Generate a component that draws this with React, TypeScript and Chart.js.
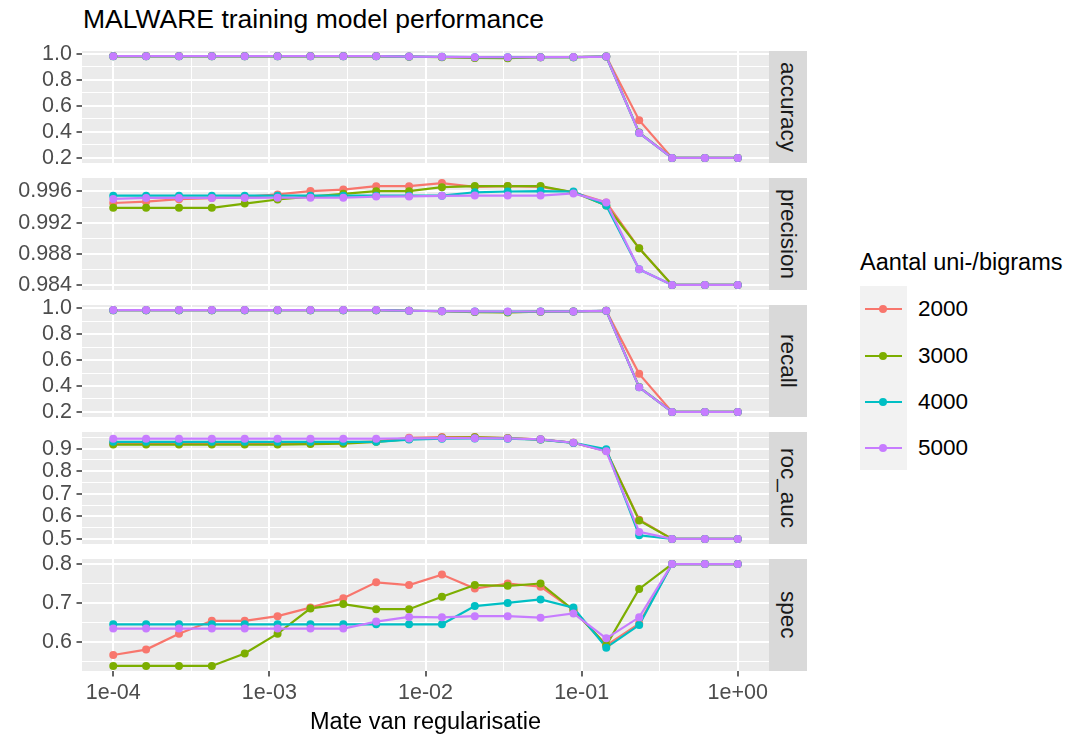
import React, { useEffect, useRef } from "react";
import { Chart, registerables } from "chart.js";

Chart.register(...registerables);

// ---------- data ----------
const regularisation = [
  1e-4, 1.624e-4, 2.637e-4, 4.281e-4, 6.952e-4, 1.129e-3, 1.833e-3, 2.976e-3, 4.833e-3, 7.848e-3,
  1.274e-2, 2.069e-2, 3.36e-2, 5.456e-2, 8.859e-2, 0.1438, 0.2336, 0.3793, 0.6158, 1.0,
];

const groupLabels = ["2000", "3000", "4000", "5000"];
const groupColors = ["#F8766D", "#7CAE00", "#00BFC4", "#C77CFF"];
const metricNames = ["accuracy", "precision", "recall", "roc_auc", "spec"];

const accuracy2000 = [0.984, 0.984, 0.984, 0.984, 0.984, 0.984, 0.984, 0.984, 0.984, 0.98, 0.977, 0.972, 0.97, 0.975, 0.976, 0.98, 0.49, 0.2, 0.2, 0.2];
const accuracy3000 = [0.982, 0.982, 0.982, 0.982, 0.982, 0.982, 0.982, 0.982, 0.982, 0.979, 0.976, 0.97, 0.968, 0.975, 0.976, 0.98, 0.395, 0.2, 0.2, 0.2];
const accuracy4000 = [0.983, 0.983, 0.983, 0.983, 0.983, 0.983, 0.983, 0.983, 0.983, 0.98, 0.978, 0.976, 0.975, 0.976, 0.976, 0.98, 0.392, 0.2, 0.2, 0.2];
const accuracy5000 = [0.983, 0.983, 0.983, 0.983, 0.983, 0.983, 0.983, 0.983, 0.983, 0.98, 0.978, 0.976, 0.975, 0.976, 0.977, 0.98, 0.392, 0.2, 0.2, 0.2];

const precision2000 = [0.99452, 0.99469, 0.99502, 0.99515, 0.99532, 0.99562, 0.99605, 0.99625, 0.99668, 0.99668, 0.99708, 0.9966, 0.9967, 0.9966, 0.9959, 0.9946, 0.9887, 0.984, 0.984, 0.984];
const precision3000 = [0.9939, 0.9939, 0.9939, 0.9939, 0.99445, 0.99497, 0.99535, 0.9957, 0.99604, 0.99604, 0.99655, 0.9967, 0.9967, 0.9967, 0.9959, 0.9942, 0.9887, 0.984, 0.984, 0.984];
const precision4000 = [0.99546, 0.99546, 0.99546, 0.99546, 0.99546, 0.99546, 0.99546, 0.99546, 0.99546, 0.99546, 0.99546, 0.9959, 0.996, 0.99605, 0.996, 0.9942, 0.986, 0.984, 0.984, 0.984];
const precision5000 = [0.99504, 0.99517, 0.99517, 0.99517, 0.99517, 0.9952, 0.9952, 0.9952, 0.99535, 0.99537, 0.99545, 0.99548, 0.99548, 0.99548, 0.99575, 0.9946, 0.986, 0.984, 0.984, 0.984];

const recall2000 = [0.986, 0.986, 0.986, 0.986, 0.986, 0.986, 0.986, 0.986, 0.986, 0.982, 0.978, 0.974, 0.972, 0.975, 0.976, 0.981, 0.494, 0.2, 0.2, 0.2];
const recall3000 = [0.986, 0.986, 0.986, 0.986, 0.986, 0.986, 0.986, 0.986, 0.986, 0.982, 0.978, 0.972, 0.969, 0.975, 0.976, 0.981, 0.392, 0.2, 0.2, 0.2];
const recall4000 = [0.986, 0.986, 0.986, 0.986, 0.986, 0.986, 0.986, 0.986, 0.986, 0.982, 0.979, 0.976, 0.975, 0.976, 0.977, 0.981, 0.39, 0.2, 0.2, 0.2];
const recall5000 = [0.987, 0.987, 0.987, 0.987, 0.987, 0.987, 0.987, 0.987, 0.987, 0.982, 0.979, 0.977, 0.976, 0.976, 0.977, 0.981, 0.39, 0.2, 0.2, 0.2];

const rocAuc2000 = [0.922, 0.922, 0.922, 0.922, 0.922, 0.922, 0.924, 0.926, 0.932, 0.948, 0.951, 0.951, 0.947, 0.941, 0.926, 0.89, 0.585, 0.5, 0.5, 0.5];
const rocAuc3000 = [0.918, 0.918, 0.918, 0.918, 0.918, 0.918, 0.92, 0.922, 0.93, 0.942, 0.948, 0.95, 0.946, 0.94, 0.926, 0.89, 0.582, 0.5, 0.5, 0.5];
const rocAuc4000 = [0.93, 0.93, 0.93, 0.93, 0.93, 0.93, 0.93, 0.93, 0.93, 0.94, 0.944, 0.945, 0.944, 0.94, 0.925, 0.897, 0.516, 0.5, 0.5, 0.5];
const rocAuc5000 = [0.944, 0.944, 0.944, 0.944, 0.944, 0.944, 0.944, 0.944, 0.944, 0.945, 0.946, 0.946, 0.945, 0.941, 0.926, 0.888, 0.531, 0.5, 0.5, 0.5];

const spec2000 = [0.566, 0.58, 0.621, 0.654, 0.654, 0.666, 0.688, 0.712, 0.753, 0.746, 0.773, 0.737, 0.75, 0.742, 0.682, 0.591, 0.647, 0.8, 0.8, 0.8];
const spec3000 = [0.538, 0.538, 0.538, 0.538, 0.57, 0.621, 0.686, 0.697, 0.684, 0.684, 0.716, 0.746, 0.744, 0.75, 0.682, 0.591, 0.736, 0.8, 0.8, 0.8];
const spec4000 = [0.645, 0.645, 0.645, 0.645, 0.645, 0.645, 0.645, 0.645, 0.645, 0.645, 0.645, 0.692, 0.7, 0.709, 0.688, 0.585, 0.643, 0.8, 0.8, 0.8];
const spec5000 = [0.634, 0.634, 0.634, 0.634, 0.634, 0.634, 0.634, 0.634, 0.652, 0.664, 0.663, 0.666, 0.666, 0.662, 0.673, 0.609, 0.663, 0.8, 0.8, 0.8];

const xTickValues = [1e-4, 1e-3, 1e-2, 1e-1, 1];
const xTickLabels = ["1e-04", "1e-03", "1e-02", "1e-01", "1e+00"];

const yTicksUnit = [0.2, 0.4, 0.6, 0.8, 1.0];
const yLabelsUnit = ["0.2", "0.4", "0.6", "0.8", "1.0"];
const yTicksPrecision = [0.984, 0.988, 0.992, 0.996];
const yLabelsPrecision = ["0.984", "0.988", "0.992", "0.996"];
const yTicksRoc = [0.5, 0.6, 0.7, 0.8, 0.9];
const yLabelsRoc = ["0.5", "0.6", "0.7", "0.8", "0.9"];
const yTicksSpec = [0.6, 0.7, 0.8];
const yLabelsSpec = ["0.6", "0.7", "0.8"];

const xAxisTitle = "Mate van regularisatie";
const chartTitle = "MALWARE training model performance";
const legendTitle = "Aantal uni-/bigrams";

// tables built from the arrays above
const panelSeries = [
  [accuracy2000, accuracy3000, accuracy4000, accuracy5000],
  [precision2000, precision3000, precision4000, precision5000],
  [recall2000, recall3000, recall4000, recall5000],
  [rocAuc2000, rocAuc3000, rocAuc4000, rocAuc5000],
  [spec2000, spec3000, spec4000, spec5000],
];
const panelTicks = [yTicksUnit, yTicksPrecision, yTicksUnit, yTicksRoc, yTicksSpec];
const panelTickLabels = [yLabelsUnit, yLabelsPrecision, yLabelsUnit, yLabelsRoc, yLabelsSpec];

// ---------- layout ----------
const FONT = "'Liberation Sans', Arial, Helvetica, sans-serif";
const PANEL_LEFT = 82;
const PANEL_RIGHT = 769;
const PANEL_TOPS = [51, 178, 305, 432, 559];
const PANEL_H = 112;
const PAD = 22;
const RIGHT_PAD = 10;
const X_AXIS_H = 45;
const CANVAS_W = PANEL_RIGHT + RIGHT_PAD;
const TICK_FONT = 21.5;
const STRIP_W = 38;

const bgPlugin = {
  id: "panelBg",
  beforeDraw(chart: any) {
    const { ctx, chartArea } = chart;
    ctx.save();
    ctx.fillStyle = "#EBEBEB";
    ctx.fillRect(chartArea.left, chartArea.top, chartArea.right - chartArea.left, chartArea.bottom - chartArea.top);
    ctx.restore();
  },
};

function makeChart(canvas: HTMLCanvasElement, k: number) {
  const isLast = k === metricNames.length - 1;
  const series = panelSeries[k];
  const all = series.flat();
  const lo = Math.min(...all);
  const hi = Math.max(...all);
  const ex = (hi - lo) * 0.05;
  const yMin = lo - ex;
  const yMax = hi + ex;
  const majors = panelTicks[k];
  const majorLabels = panelTickLabels[k];
  const step = majors[1] - majors[0];
  const yTickObjs: any[] = [];
  majors.forEach((v, j) => yTickObjs.push({ value: v, lbl: majorLabels[j], isMinor: false }));
  for (let j = -1; j < majors.length; j++) {
    const v = majors[0] + (j + 0.5) * step;
    if (v > yMin && v < yMax) yTickObjs.push({ value: v, lbl: "", isMinor: true });
  }
  yTickObjs.sort((a, b) => a.value - b.value);

  const xTickObjs: any[] = [];
  xTickValues.forEach((v, j) => xTickObjs.push({ value: v, lbl: xTickLabels[j], isMinor: false }));
  for (let j = 0; j < xTickValues.length - 1; j++) {
    xTickObjs.push({ value: Math.sqrt(xTickValues[j] * xTickValues[j + 1]), lbl: "", isMinor: true });
  }
  xTickObjs.sort((a, b) => a.value - b.value);

  const datasets: any[] = [];
  series.forEach((vals, s) => {
    datasets.push({
      data: regularisation.map((x, i) => ({ x, y: vals[i] })),
      showLine: true,
      borderColor: groupColors[s],
      borderWidth: 2.2,
      pointRadius: 0,
      fill: false,
      order: 4 + (3 - s),
    });
  });
  series.forEach((vals, s) => {
    datasets.push({
      data: regularisation.map((x, i) => ({ x, y: vals[i] })),
      showLine: false,
      pointRadius: 4,
      pointBackgroundColor: groupColors[s],
      pointBorderWidth: 0,
      order: 3 - s,
    });
  });

  const gridWidth = (c: any) => (c.tick && c.tick.isMinor ? 1 : 2);
  const tickCol = (c: any) => (c.tick && c.tick.isMinor ? "rgba(0,0,0,0)" : "#333333");

  return new Chart(canvas, {
    type: "scatter",
    data: { datasets },
    plugins: [bgPlugin],
    options: {
      responsive: false,
      animation: false,
      devicePixelRatio: 1,
      layout: { padding: { top: PAD, bottom: isLast ? 0 : PAD, left: 0, right: RIGHT_PAD } },
      plugins: { legend: { display: false }, tooltip: { enabled: false } },
      scales: {
        x: {
          type: "logarithmic",
          min: Math.pow(10, -4.2),
          max: Math.pow(10, 0.2),
          border: { display: false },
          afterBuildTicks: (scale: any) => {
            scale.ticks = xTickObjs.map((t) => ({ ...t }));
          },
          afterFit: (scale: any) => {
            scale.height = isLast ? X_AXIS_H : 0;
          },
          ticks: {
            display: isLast,
            autoSkip: false,
            maxRotation: 0,
            padding: 4,
            color: "#4D4D4D",
            font: { family: FONT, size: TICK_FONT },
            callback: (_v: any, i: number, t: any[]) => (t[i] && t[i].lbl) || "",
          },
          grid: {
            color: "#FFFFFF",
            lineWidth: gridWidth,
            drawTicks: isLast,
            tickLength: 5.5,
            tickColor: tickCol,
            tickWidth: 1.5,
          },
        },
        y: {
          type: "linear",
          min: yMin,
          max: yMax,
          border: { display: false },
          afterBuildTicks: (scale: any) => {
            scale.ticks = yTickObjs.map((t) => ({ ...t }));
          },
          afterFit: (scale: any) => {
            scale.width = PANEL_LEFT;
          },
          ticks: {
            autoSkip: false,
            padding: 4.5,
            color: "#4D4D4D",
            font: { family: FONT, size: TICK_FONT },
            callback: (_v: any, i: number, t: any[]) => (t[i] && t[i].lbl) || "",
          },
          grid: {
            color: "#FFFFFF",
            lineWidth: gridWidth,
            drawTicks: true,
            tickLength: 5.5,
            tickColor: tickCol,
            tickWidth: 1.5,
          },
        },
      },
    } as any,
  });
}

export default function App() {
  const refs = useRef<(HTMLCanvasElement | null)[]>([]);

  useEffect(() => {
    const charts = metricNames.map((_, k) => makeChart(refs.current[k] as HTMLCanvasElement, k));
    return () => charts.forEach((c) => c.destroy());
  }, []);

  const legendItemCenters = [309, 356, 402, 448];

  return (
    <div
      style={{
        position: "absolute",
        left: 0,
        top: 0,
        width: 1071,
        height: 740,
        background: "#FFFFFF",
        fontFamily: FONT,
        overflow: "hidden",
      }}
    >
      <div style={{ position: "absolute", left: 83, top: 6, fontSize: 26.5, lineHeight: 1, color: "#000", whiteSpace: "nowrap" }}>
        {chartTitle}
      </div>

      {metricNames.map((m, k) => {
        const isLast = k === metricNames.length - 1;
        const h = PANEL_H + PAD + (isLast ? X_AXIS_H : PAD);
        return (
          <React.Fragment key={m}>
            <canvas
              ref={(el) => {
                refs.current[k] = el;
              }}
              width={CANVAS_W}
              height={h}
              style={{ position: "absolute", left: 0, top: PANEL_TOPS[k] - PAD, width: CANVAS_W, height: h }}
            />
            <div
              style={{
                position: "absolute",
                left: PANEL_RIGHT,
                top: PANEL_TOPS[k],
                width: STRIP_W,
                height: PANEL_H,
                background: "#D9D9D9",
                display: "flex",
                alignItems: "center",
                justifyContent: "center",
              }}
            >
              <span style={{ writingMode: "vertical-rl", fontSize: 22.5, color: "#1A1A1A", lineHeight: 1 }}>{m}</span>
            </div>
          </React.Fragment>
        );
      })}

      <div
        style={{
          position: "absolute",
          left: PANEL_LEFT,
          width: PANEL_RIGHT - PANEL_LEFT,
          top: 710,
          fontSize: 23.5,
          lineHeight: 1,
          textAlign: "center",
          color: "#000",
          whiteSpace: "nowrap",
        }}
      >
        {xAxisTitle}
      </div>

      <div style={{ position: "absolute", left: 860, top: 251, fontSize: 23.5, lineHeight: 1, color: "#000", whiteSpace: "nowrap" }}>
        {legendTitle}
      </div>
      <div style={{ position: "absolute", left: 860, top: 286, width: 47, height: 184, background: "#F2F2F2" }} />
      {groupLabels.map((g, s) => (
        <React.Fragment key={g}>
          <div
            style={{
              position: "absolute",
              left: 865,
              top: legendItemCenters[s] - 1,
              width: 37,
              height: 2.2,
              background: groupColors[s],
            }}
          />
          <div
            style={{
              position: "absolute",
              left: 879,
              top: legendItemCenters[s] - 4,
              width: 8,
              height: 8,
              borderRadius: "50%",
              background: groupColors[s],
            }}
          />
          <div
            style={{
              position: "absolute",
              left: 918,
              top: legendItemCenters[s] - 11.5,
              fontSize: 22.5,
              lineHeight: 1,
              color: "#000",
              whiteSpace: "nowrap",
            }}
          >
            {g}
          </div>
        </React.Fragment>
      ))}
    </div>
  );
}
